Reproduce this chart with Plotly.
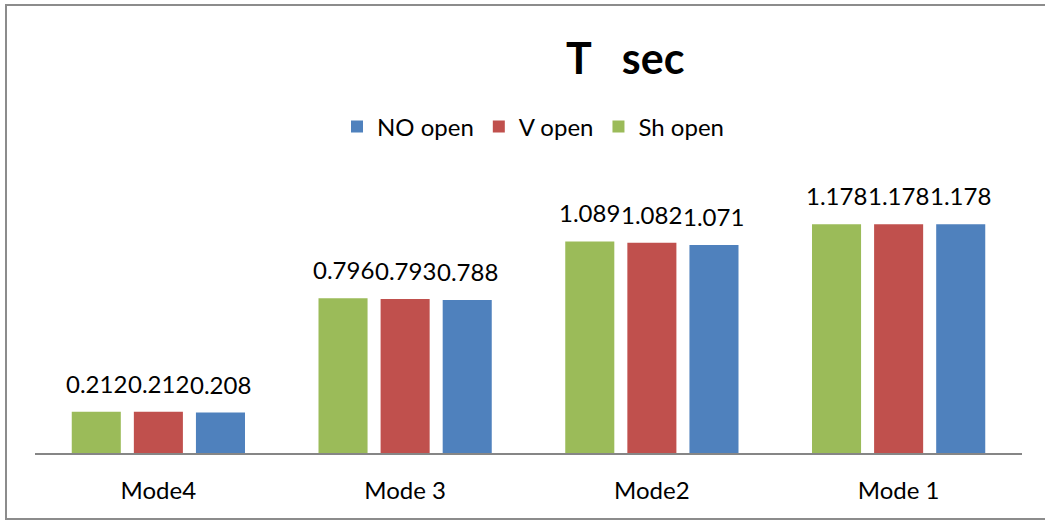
import plotly.graph_objects as go

modes = ['Mode4', 'Mode 3', 'Mode2', 'Mode 1']
sh_open = [0.212, 0.796, 1.089, 1.178]
v_open = [0.212, 0.793, 1.082, 1.178]
no_open = [0.208, 0.788, 1.071, 1.178]

FONT = 'Lato'
BARGAP = 0.245

fig = go.Figure()

series = [
    ('Sh open', sh_open, '#9BBB59'),
    ('V open', v_open, '#C0504D'),
    ('NO open', no_open, '#4F81BD'),
]
slot = (1 - BARGAP) / len(series)
for k, (name, vals, color) in enumerate(series):
    fig.add_trace(go.Bar(
        x=modes,
        y=vals,
        name=name,
        marker=dict(color=color, line=dict(width=0)),
    ))
    # data labels (Excel-style, sitting a bit higher than plotly's own)
    off = (k - (len(series) - 1) / 2) * slot
    for i, v in enumerate(vals):
        fig.add_annotation(x=i + off, y=v, xref='x', yref='y',
                           text=f'{v:.3f}', showarrow=False,
                           xanchor='center', yanchor='bottom', yshift=12,
                           font=dict(size=24, color='#000000', family=FONT))

# plot area: x 35..1022, y 181..453 in pixels
L, R, T, B = 35, 23, 181, 67
pw, ph = 1045 - L - R, 520 - T - B

def px_x(p):
    return (p - L) / pw

def px_y(p):
    return (520 - B - p) / ph

fig.add_shape(type='rect', xref='paper', yref='paper',
              x0=px_x(6), x1=px_x(1047), y0=px_y(519), y1=px_y(5),
              line=dict(color='#8c8c8c', width=2), layer='below')

fig.add_annotation(text='<b>T   sec</b>', xref='paper', yref='paper',
                   x=px_x(625), y=px_y(57), xanchor='center', yanchor='middle',
                   showarrow=False, font=dict(size=43, color='#000000', family=FONT))

fig.update_layout(
    width=1045,
    height=520,
    margin=dict(l=L, r=R, t=T, b=B),
    plot_bgcolor='white',
    paper_bgcolor='white',
    barmode='group',
    bargap=BARGAP,
    bargroupgap=0.21,
    showlegend=True,
    legend=dict(
        orientation='h',
        traceorder='reversed',
        x=px_x(533), xanchor='center',
        y=px_y(127), yanchor='middle',
        font=dict(size=24, color='#000000', family=FONT),
        itemwidth=30,
    ),
    xaxis=dict(
        showline=True, linecolor='#868686', linewidth=2,
        showgrid=False, ticks='', ticklabelstandoff=15,
        tickfont=dict(size=24, color='#000000', family=FONT),
    ),
    yaxis=dict(range=[0, 1.4], visible=False, showgrid=False),
)

fig.write_html('out.html', config={'displayModeBar': False},
               post_script="document.body.style.margin='0';")
